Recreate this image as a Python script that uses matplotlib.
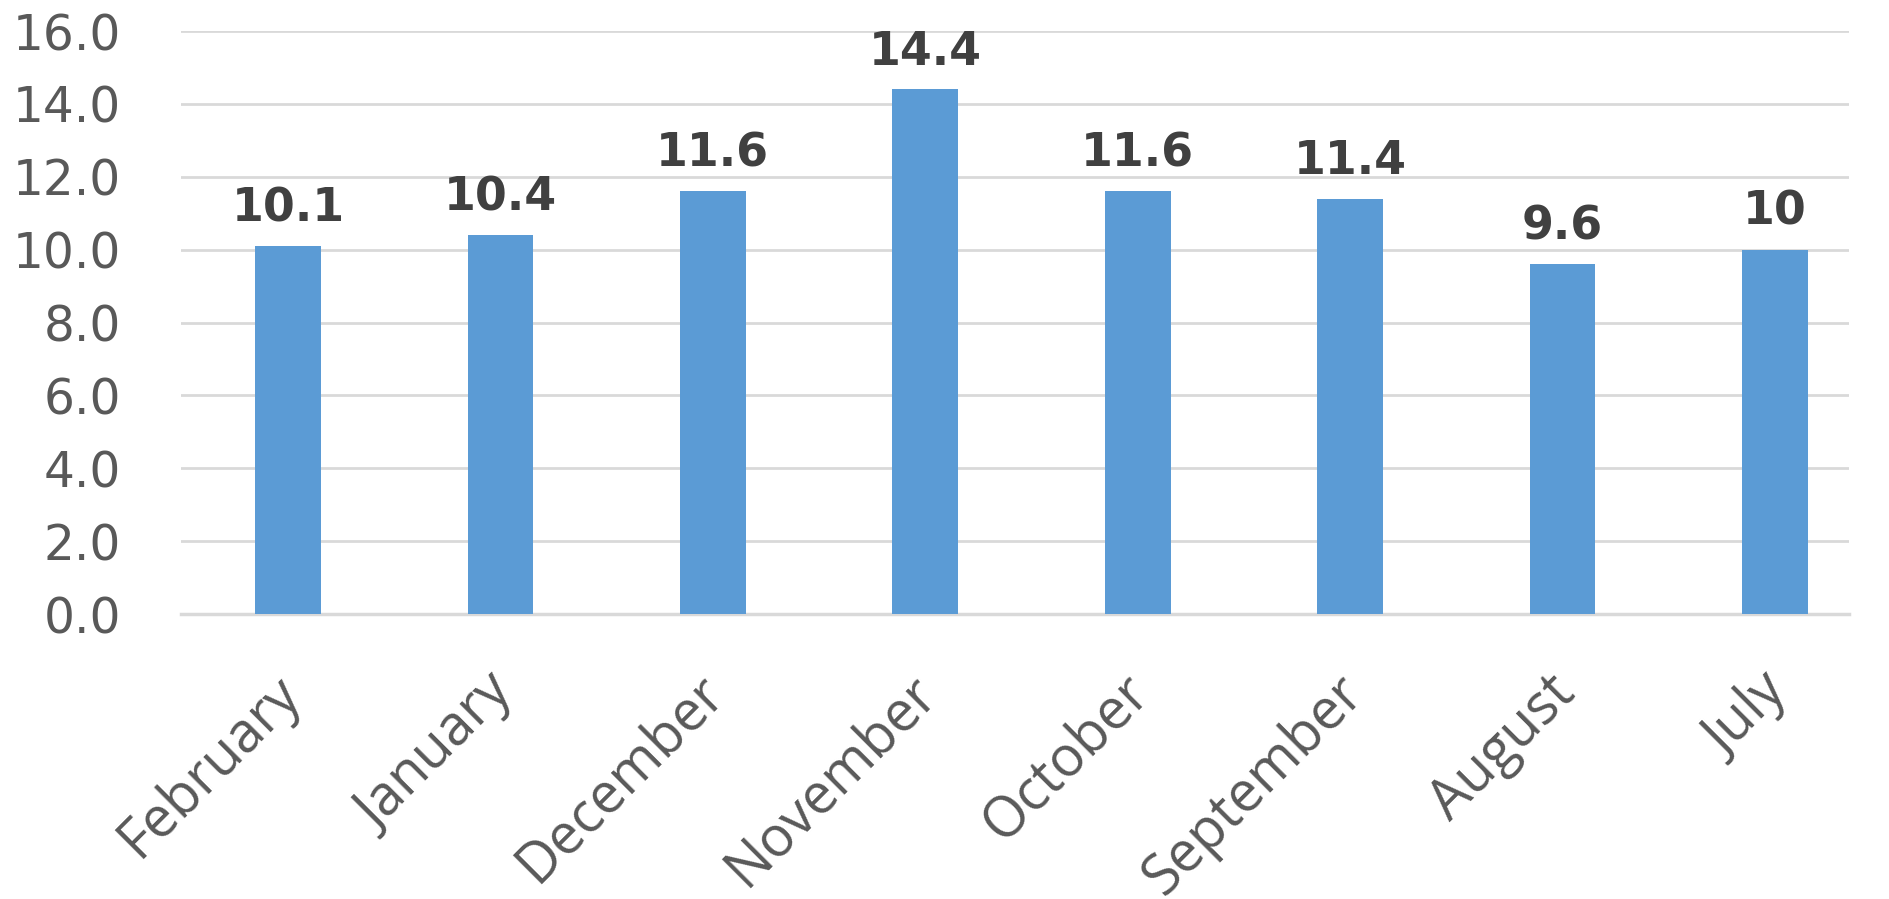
import matplotlib.pyplot as plt
import numpy as np

plt.rcParams['font.family'] = ['DejaVu Sans']

months = ['February', 'January', 'December', 'November', 'October', 'September', 'August', 'July']
values = [10.1, 10.4, 11.6, 14.4, 11.6, 11.4, 9.6, 10]
labels = ['10.1', '10.4', '11.6', '14.4', '11.6', '11.4', '9.6', '10']

fig = plt.figure(figsize=(18.89, 8.99), dpi=100)
ax = fig.add_axes([0.0958, 0.317, 0.979 - 0.0958, 0.9655 - 0.317])

x = np.arange(len(months))
bars = ax.bar(x, values, width=0.31, color='#5b9bd5', zorder=3)

for xi, v, s in zip(x, values, labels):
    ax.text(xi, v + 0.68, s, ha='center', va='baseline', fontsize=33,
            fontweight='bold', color='#404040')

ax.set_xlim(-0.504, 7.35)
ax.set_ylim(0, 16)
ax.set_yticks(np.arange(0, 17, 2))
ax.set_yticklabels(['%.1f' % t for t in np.arange(0, 17, 2)])
ax.yaxis.grid(True, color='#d9d9d9', lw=2, zorder=0)

# category labels, rotated, placed just under the axis
ax.set_xticks(x)
ax.set_xticklabels([])
for xi, m in zip(x, months):
    ax.annotate(m, xy=(xi, 0), xycoords=('data', 'axes fraction'),
                xytext=(3, -51), textcoords='offset points',
                rotation=45, rotation_mode='anchor', ha='right', va='center',
                fontfamily='Open Sans', fontsize=40, color='#595959',
                annotation_clip=False)

for sp in ['top', 'right', 'left']:
    ax.spines[sp].set_visible(False)
ax.spines['bottom'].set_color('#d9d9d9')
ax.spines['bottom'].set_linewidth(2.5)
ax.tick_params(axis='both', length=0, labelcolor='#595959')
ax.tick_params(axis='y', labelsize=35, pad=43)

fig.savefig('out.png', dpi=100)
